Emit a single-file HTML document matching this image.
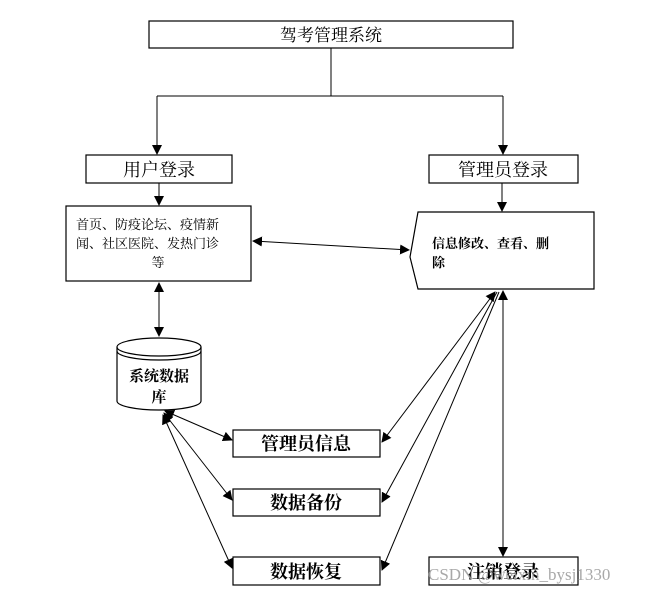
<!DOCTYPE html>
<html><head><meta charset="utf-8"><style>
body{margin:0;background:#fff;}
svg text{font-family:"Liberation Serif","Noto Serif CJK SC","Noto Sans CJK SC",serif;}
</style></head><body>
<svg width="661" height="594" viewBox="0 0 661 594" xmlns="http://www.w3.org/2000/svg">
<defs><marker id="a" markerWidth="10" markerHeight="10" refX="9" refY="5" orient="auto-start-reverse" markerUnits="userSpaceOnUse"><path d="M0,0 L10,5 L0,10 z" fill="#000"/></marker></defs>
<g fill="#fff" stroke="#000" stroke-width="1.2">
<rect x="149" y="21" width="364" height="27"/>
<rect x="86" y="155" width="146" height="28"/>
<rect x="429" y="155" width="149" height="28"/>
<rect x="66" y="206" width="185" height="75"/>
<path d="M418,212 L594,212 L594,289 L418,289 L410,257 Z"/>
<rect x="233" y="430" width="147" height="27"/>
<rect x="233" y="489" width="147" height="27"/>
<rect x="233" y="557" width="147" height="28"/>
<rect x="429" y="557" width="149" height="28"/>
<path d="M117,347 L117,401 A42,9 0 0 0 201,401 L201,347 A42,9 0 0 0 117,347 Z"/>
<path d="M117,347 A42,9 0 0 0 201,347 M117,351 A42,9 0 0 0 201,351" fill="none"/>
</g>
<g stroke="#000" stroke-width="1" fill="none">
<path d="M331,48 V96 M157,96 H503"/>
<path d="M157,96 V154" marker-end="url(#a)"/>
<path d="M503,96 V154" marker-end="url(#a)"/>
<path d="M159,183 V205" marker-end="url(#a)"/>
<path d="M502,183 V211" marker-end="url(#a)"/>
<path d="M253,241 L409,250" marker-start="url(#a)" marker-end="url(#a)"/>
<path d="M159,283 V336" marker-start="url(#a)" marker-end="url(#a)"/>
<path d="M503,291 V556" marker-start="url(#a)" marker-end="url(#a)"/>
<path d="M495,292 L382,442" marker-start="url(#a)" marker-end="url(#a)"/>
<path d="M497,292 L382,502" marker-end="url(#a)"/>
<path d="M499,292 L382,570" marker-end="url(#a)"/>
<path d="M165,411 L232,440" marker-start="url(#a)" marker-end="url(#a)"/>
<path d="M164,413 L232,500" marker-start="url(#a)" marker-end="url(#a)"/>
<path d="M163,415 L232,568" marker-start="url(#a)" marker-end="url(#a)"/>
</g>
<g font-size="18" text-anchor="middle" fill="#000">
<text x="331" y="41" font-size="17">驾考管理系统</text>
<text x="159" y="176">用户登录</text>
<text x="503" y="176">管理员登录</text>
<text x="306" y="450" font-weight="bold">管理员信息</text>
<text x="306" y="509" font-weight="bold">数据备份</text>
<text x="306" y="578" font-weight="bold">数据恢复</text>
<text x="503" y="578" font-weight="bold">注销登录</text>
</g>
<g font-size="13" fill="#000">
<text x="76" y="229">首页、防疫论坛、疫情新</text>
<text x="76" y="248">闻、社区医院、发热门诊</text>
<text x="158" y="267" text-anchor="middle">等</text>
<text x="432" y="248" font-weight="bold">信息修改、查看、删</text>
<text x="432" y="267" font-weight="bold">除</text>
<text x="159" y="381" text-anchor="middle" font-size="15" font-weight="bold">系统数据</text>
<text x="159" y="402" text-anchor="middle" font-size="15" font-weight="bold">库</text>
</g>
<text x="428" y="580" font-size="17" fill="#999" font-family="Liberation Sans,sans-serif" opacity="0.85">CSDN @weixin_bysj1330</text>
</svg>
</body></html>
